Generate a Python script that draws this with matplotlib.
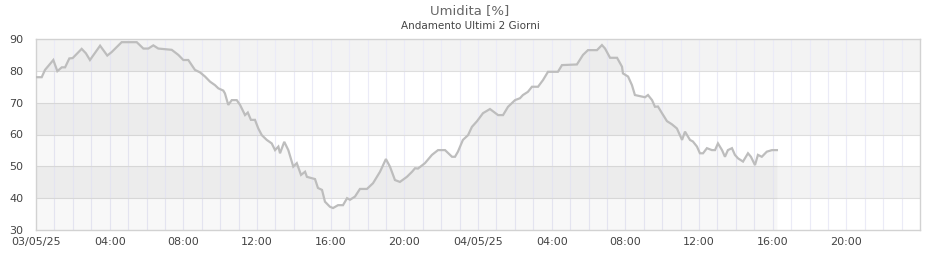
import matplotlib
matplotlib.use("Agg")
import matplotlib.pyplot as plt
from matplotlib.patches import Rectangle

# hours since 03/05/25 00:00
hours = [0.00, 0.31, 0.49, 0.94, 1.16, 1.40, 1.58, 1.81, 1.99, 2.48, 2.71, 2.93,
         3.48, 3.87, 4.11, 4.65, 5.47, 5.83, 6.10, 6.37, 6.64, 7.37, 7.73, 8.00,
         8.27, 8.63, 8.91, 9.18, 9.45, 9.72, 9.90, 10.17, 10.26, 10.44, 10.63,
         10.90, 11.08, 11.35, 11.50, 11.67, 11.89, 12.07, 12.26, 12.53, 12.80,
         12.98, 13.16, 13.25, 13.48, 13.70, 13.97, 14.16, 14.39, 14.61, 14.71,
         15.15, 15.31, 15.53, 15.69, 15.96, 16.13, 16.40, 16.67, 16.89, 17.05,
         17.32, 17.59, 17.97, 18.30, 18.68, 19.00, 19.22, 19.49, 19.76, 20.14,
         20.42, 20.58, 20.74, 21.12, 21.50, 21.83, 22.21, 22.59, 22.75, 22.91,
         23.18, 23.46, 23.67, 23.95, 24.27, 24.65, 25.09, 25.36, 25.63, 26.01,
         26.28, 26.44, 26.71, 26.93, 27.26, 27.53, 27.80, 28.34, 28.56, 29.37,
         29.70, 29.97, 30.46, 30.73, 30.90, 31.17, 31.55, 31.82, 31.87, 32.15,
         32.36, 32.52, 32.90, 33.07, 33.23, 33.45, 33.61, 33.77, 33.99, 34.26,
         34.53, 34.80, 35.08, 35.24, 35.51, 35.67, 35.89, 36.05, 36.22, 36.43,
         36.70, 36.87, 37.03, 37.25, 37.41, 37.57, 37.79, 37.95, 38.12, 38.39,
         38.66, 38.82, 39.04, 39.20, 39.41, 39.68, 39.96, 40.23]
humidity = [78, 78, 80.3, 83.4, 79.9, 81.1, 81.1, 83.9, 84, 86.9, 85.5, 83.4,
            87.9, 84.8, 85.9, 89, 89, 87, 87, 88, 87, 86.6, 85, 83.4,
            83.4, 80.3, 79.5, 78.2, 76.6, 75.5, 74.5, 73.8, 72.9, 69.3, 70.8,
            70.8, 69.3, 66.1, 66.9, 64.6, 64.6, 61.9, 59.8, 58.3, 57.2,
            55.1, 56.2, 54.1, 57.7, 55.1, 49.9, 51, 47.3, 48.3, 46.7,
            46, 43.2, 42.6, 38.9, 37.3, 36.9, 37.8, 37.8, 40, 39.5,
            40.5, 42.9, 42.9, 44.7, 48.3, 52.3, 49.9, 45.7, 45.1, 46.7,
            48.3, 49.4, 49.3, 51, 53.6, 55.1, 55.1, 53, 53, 54.6,
            58.3, 59.8, 62.4, 64.2, 66.7, 68, 66.1, 66.1, 68.7, 70.8,
            71.4, 72.4, 73.4, 75, 75, 77.1, 79.7, 79.7, 81.8, 82,
            85, 86.5, 86.5, 88.1, 87, 84.1, 84.1, 81.3, 79.2, 78.2,
            75.5, 72.4, 71.9, 71.7, 72.4, 70.8, 68.7, 68.8, 66.7, 64.2,
            63.2, 61.9, 58.3, 60.9, 58.3, 57.8, 56.2, 54.1, 54.1, 55.7,
            55.1, 55.1, 57.2, 55.1, 53, 55.1, 55.7, 53.6, 52.5, 51.5,
            54.1, 53, 50.4, 53.6, 53, 54.6, 55.1, 55.1]

tick_hours = [0, 4, 8, 12, 16, 20, 24, 28, 32, 36, 40, 44]
tick_labels = ["03/05/25", "04:00", "08:00", "12:00", "16:00", "20:00",
               "04/05/25", "04:00", "08:00", "12:00", "16:00", "20:00"]
y_ticks = [30, 40, 50, 60, 70, 80, 90]

fig = plt.figure(figsize=(9.4, 2.6), dpi=100)
ax = fig.add_axes([36/940, 1-230/260, 884/940, 191/260])
ax.set_xlim(0, 48)
ax.set_ylim(30, 90)

# alternating bands
for i, lo in enumerate(range(30, 90, 10)):
    col = "#ffffff" if i % 2 == 0 else "#f3f3f3"
    ax.add_patch(Rectangle((0, lo), 48, 10, facecolor=col, edgecolor="none", zorder=0))

# vertical hourly grid
for h in range(1, 48):
    ax.axvline(h, color="#ebebf7", lw=0.8, zorder=1)
# horizontal grid
for y in y_ticks[1:-1]:
    ax.axhline(y, color="#dedede", lw=0.8, zorder=1)

ax.fill_between(hours, humidity, 30, color="#000000", alpha=0.028, lw=0, zorder=2)
ax.plot(hours, humidity, color="#bdbdbd", lw=1.6, zorder=3, solid_joinstyle="miter")

ax.set_xticks(tick_hours)
ax.set_xticklabels(tick_labels)
ax.set_yticks(y_ticks)
ax.tick_params(length=0, labelsize=8, labelcolor="#444444", pad=5)
ax.tick_params(axis="y", pad=9)
for s in ax.spines.values():
    s.set_color("#d2d2d2")
    s.set_linewidth(1)

fig.text(470/940, 1-11/260, "Umidita [%]", ha="center", va="center", fontsize=9.5, color="#666666")
fig.text(470/940, 1-26/260, "Andamento Ultimi 2 Giorni", ha="center", va="center", fontsize=7.5, color="#444444")

fig.savefig("out.png", dpi=100, facecolor="white")
